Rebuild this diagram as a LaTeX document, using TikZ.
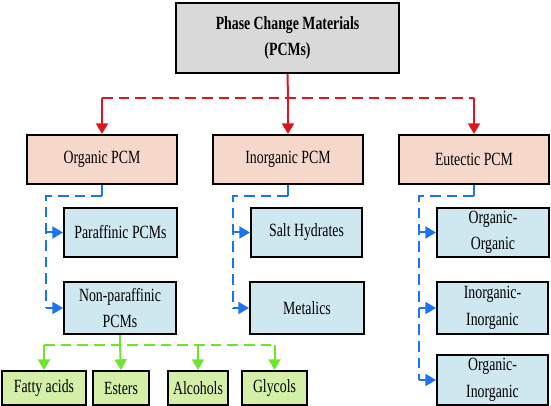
\documentclass[tikz,border=0pt]{standalone}
\usepackage{fontspec}
\setmainfont{Liberation Serif}[FakeStretch=0.74]
\usetikzlibrary{arrows.meta}

\definecolor{pcmgray}{HTML}{D9D9D9}
\definecolor{pcmpink}{HTML}{F6D8CA}
\definecolor{pcmblue}{HTML}{CFE7EF}
\definecolor{pcmgreen}{HTML}{D4EFA8}
\definecolor{linered}{HTML}{E0141E}
\definecolor{lineblue}{HTML}{1A73F0}
\definecolor{linegreen}{HTML}{6CE62A}

\tikzset{
  pcmbox/.style={draw, line width=1.5pt, align=center, inner sep=1pt,
    font=\fontsize{14}{20}\selectfont},
  link/.style={line width=1.5pt, dash pattern=on 8pt off 4.5pt},
  tip/.style={line width=1.5pt, -{Triangle[length=8pt,width=9pt]}}
}

\begin{document}
\begin{tikzpicture}[x=0.75pt,y=-0.75pt]
\useasboundingbox (0,0) rectangle (551,406);

\node[pcmbox, fill=pcmgray, font=\fontsize{14}{20}\selectfont\bfseries, minimum width=167.25pt, minimum height=52.5pt] (pcm) at (287.5,38) {Phase Change Materials\\(PCMs)};

\node[pcmbox, fill=pcmpink, minimum width=112.5pt, minimum height=36.75pt] (org) at (102,159.5) {Organic PCM};
\node[pcmbox, fill=pcmpink, minimum width=112.5pt, minimum height=36.75pt] (inorg) at (288,159.5) {Inorganic PCM};
\node[pcmbox, fill=pcmpink, minimum width=112.5pt, minimum height=36.75pt] (eut) at (474,159.5) {Eutectic PCM};

\node[pcmbox, fill=pcmblue, minimum width=84.75pt, minimum height=36.75pt] (par) at (120.5,232.5) {Paraffinic PCMs};
\node[pcmbox, fill=pcmblue, minimum width=84pt, minimum height=39pt] (npar) at (120,308) {Non-paraffinic\\PCMs};

\node[pcmbox, fill=pcmblue, minimum width=83.25pt, minimum height=36.75pt] (salt) at (306.5,232.5) {Salt Hydrates};
\node[pcmbox, fill=pcmblue, minimum width=85.5pt, minimum height=39pt] (met) at (307,308) {Metalics};

\node[pcmbox, fill=pcmblue, minimum width=84pt, minimum height=36.75pt] (oo) at (493,232.5) {Organic-\\Organic};
\node[pcmbox, fill=pcmblue, minimum width=83.25pt, minimum height=39pt] (ii) at (492.5,308) {Inorganic-\\Inorganic};
\node[pcmbox, fill=pcmblue, minimum width=83.25pt, minimum height=37.5pt] (oi) at (492.5,380) {Organic-\\Inorganic};

\node[pcmbox, fill=pcmgreen, minimum width=63pt, minimum height=25.5pt] (fat) at (44,388) {Fatty acids};
\node[pcmbox, fill=pcmgreen, minimum width=42pt, minimum height=25.5pt] (est) at (121,388) {Esters};
\node[pcmbox, fill=pcmgreen, minimum width=45pt, minimum height=25.5pt] (alc) at (198,388) {Alcohols};
\node[pcmbox, fill=pcmgreen, minimum width=48.75pt, minimum height=25.5pt] (gly) at (274.5,388) {Glycols};

\coordinate (r0) at (288,98);
\coordinate (o1) at (102,196);
\coordinate (o2) at (46,196);
\coordinate (i1) at (288,196);
\coordinate (i2) at (233,196);
\coordinate (e1) at (474,196);
\coordinate (e2) at (419,196);
\coordinate (g0) at (120,345);

\path[draw, linered, line width=1.5pt] (pcm.south) -- (r0);
\path[draw, linered, link] (org.north |- r0) -- (eut.north |- r0);
\path[draw, linered, tip] (org.north |- r0) -- (org.north);
\path[draw, linered, tip] (r0) -- (inorg.north);
\path[draw, linered, tip] (eut.north |- r0) -- (eut.north);

\path[draw, lineblue, line width=1.5pt] (org.south) -- (o1);
\path[draw, lineblue, link] (o1) -- (o2) -- (o2 |- npar.west);
\path[draw, lineblue, tip] (o2 |- par.west) -- (par.west);
\path[draw, lineblue, tip] (o2 |- npar.west) -- (npar.west);

\path[draw, lineblue, line width=1.5pt] (inorg.south) -- (i1);
\path[draw, lineblue, link] (i1) -- (i2) -- (i2 |- met.west);
\path[draw, lineblue, tip] (i2 |- salt.west) -- (salt.west);
\path[draw, lineblue, tip] (i2 |- met.west) -- (met.west);

\path[draw, lineblue, line width=1.5pt] (eut.south) -- (e1);
\path[draw, lineblue, link] (e1) -- (e2) -- (e2 |- oi.west);
\path[draw, lineblue, tip] (e2 |- oo.west) -- (oo.west);
\path[draw, lineblue, tip] (e2 |- ii.west) -- (ii.west);
\path[draw, lineblue, tip] (e2 |- oi.west) -- (oi.west);

\path[draw, linegreen, line width=1.5pt] (npar.south) -- (g0);
\path[draw, linegreen, link] (fat.north |- g0) -- (gly.north |- g0);
\path[draw, linegreen, tip] (fat.north |- g0) -- (fat.north);
\path[draw, linegreen, tip] (g0) -- (est.north);
\path[draw, linegreen, tip] (alc.north |- g0) -- (alc.north);
\path[draw, linegreen, tip] (gly.north |- g0) -- (gly.north);
\end{tikzpicture}
\end{document}
